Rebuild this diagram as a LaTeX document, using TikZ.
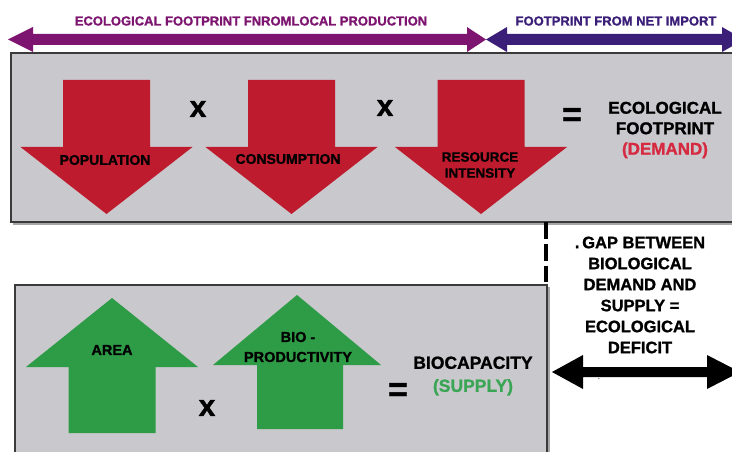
\documentclass[tikz,border=0pt]{standalone}
\usepackage{fontspec}
\setmainfont{Liberation Sans}[BoldFeatures={FakeBold=1.2}]
\definecolor{boxgray}{HTML}{C9C8CD}
\definecolor{boxline}{HTML}{3A3A3A}
\definecolor{purp}{HTML}{7D1570}
\definecolor{indig}{HTML}{3B1E78}
\definecolor{redarr}{HTML}{BE1C2E}
\definecolor{greenarr}{HTML}{2E9B47}
\definecolor{demandred}{HTML}{D62A40}
\definecolor{supplygreen}{HTML}{3AA655}
\tikzset{
  boxframe/.style={draw=boxline, line width=2pt, fill=boxgray},
  lbl/.style={font=\bfseries\fontsize{#1}{#1}\selectfont, inner sep=0pt, align=center},
  bigsym/.style={font=\bfseries\fontsize{30}{30}\selectfont, inner sep=0pt},
  multi/.style={font=\bfseries\fontsize{17}{20.5}\selectfont, inner sep=0pt, align=center}
}
\begin{document}
\begin{tikzpicture}[x=1pt,y=-1pt]
\useasboundingbox (0,0) rectangle (732,452);
\fill[white] (0,0) rectangle (732,452);

% boxes
\fill[gray!70] (13,55) rectangle (747,224.5);
\draw[boxframe] (11,53) rectangle (745,222);
\fill[gray!70] (17,287) rectangle (549.5,470);
\draw[boxframe] (15,285) rectangle (547,468);

% top double arrows
\fill[purp] (8,39.5) -- (33,27) -- (33,34) -- (467,34) -- (467,27) -- (486,39.5)
  -- (467,52) -- (467,45) -- (33,45) -- (33,52) -- cycle;
\fill[indig] (486,39.5) -- (507,27) -- (507,34) -- (722,34) -- (722,27) -- (744,39.5)
  -- (722,52) -- (722,45) -- (507,45) -- (507,52) -- cycle;
\node[lbl=13, text=purp] (localprod) at (251,21) {ECOLOGICAL FOOTPRINT FNROMLOCAL PRODUCTION};
\node[lbl=13, text=indig] (netimport) at (616,21) {FOOTPRINT FROM NET IMPORT};

% red down arrows
\foreach \cx in {106.5,291.5,481} {
  \fill[redarr] (\cx-43.5,80) -- (\cx+43.5,80) -- (\cx+43.5,147) -- (\cx+86,147)
    -- (\cx,214) -- (\cx-86,147) -- (\cx-43.5,147) -- cycle;
}
\node[lbl=14] (population) at (105,160) {POPULATION};
\node[lbl=14] (consumption) at (288,159) {CONSUMPTION};
\node[font=\fontsize{13.5}{16}\selectfont, inner sep=0pt, align=center] (resource) at (480,165) {\textbf{RESOURCE}\\\textbf{INTENSITY}};
\node[bigsym] (x1) at (198,109) {x};
\node[bigsym] (x2) at (385,108) {x};
\node[font=\bfseries\fontsize{34}{34}\selectfont, inner sep=0pt] (eq1) at (572,117) {=};
\node[multi] (ef) at (665,130) {ECOLOGICAL\\FOOTPRINT\\\textcolor{demandred}{(DEMAND)}};

% green up arrows
\fill[greenarr] (112,298) -- (198,367) -- (155.5,367) -- (155.5,433) -- (68.5,433)
  -- (68.5,367) -- (26,367) -- cycle;
\fill[greenarr] (297,295) -- (381,365) -- (343,365) -- (343,429) -- (257,429)
  -- (257,365) -- (213,365) -- cycle;
\node[lbl=14.5] (area) at (112,350) {AREA};
\node[font=\bfseries\fontsize{14.5}{20}\selectfont, inner sep=0pt, align=center] (bioprod) at (298,347) {BIO -\\PRODUCTIVITY};
\node[bigsym] (x3) at (207,408) {x};
\node[font=\bfseries\fontsize{34}{34}\selectfont, inner sep=0pt] (eq2) at (398,392) {=};
\node[font=\bfseries\fontsize{17.5}{23}\selectfont, inner sep=0pt, align=center] (biocap) at (473,376) {BIOCAPACITY\\\textcolor{supplygreen}{(SUPPLY)}};

% gap
\coordinate (dtop) at (546,222);
\coordinate (dbot) at (546,282);
\draw[line width=4pt, dash pattern=on 17pt off 5pt] (dtop) -- (dbot);
\node[multi, font=\bfseries\fontsize{16.5}{21}\selectfont] (gap) at (640,295) {.\,GAP BETWEEN\\BIOLOGICAL\\DEMAND AND\\SUPPLY =\\ECOLOGICAL\\DEFICIT};
\fill[black] (552,372) -- (583,355) -- (583,367) -- (707,367) -- (707,355) -- (740,372)
  -- (707,389) -- (707,377) -- (583,377) -- (583,389) -- cycle;
\node[font=\fontsize{8}{8}\selectfont, inner sep=0pt] (dot) at (599,379) {.};
\end{tikzpicture}
\end{document}
